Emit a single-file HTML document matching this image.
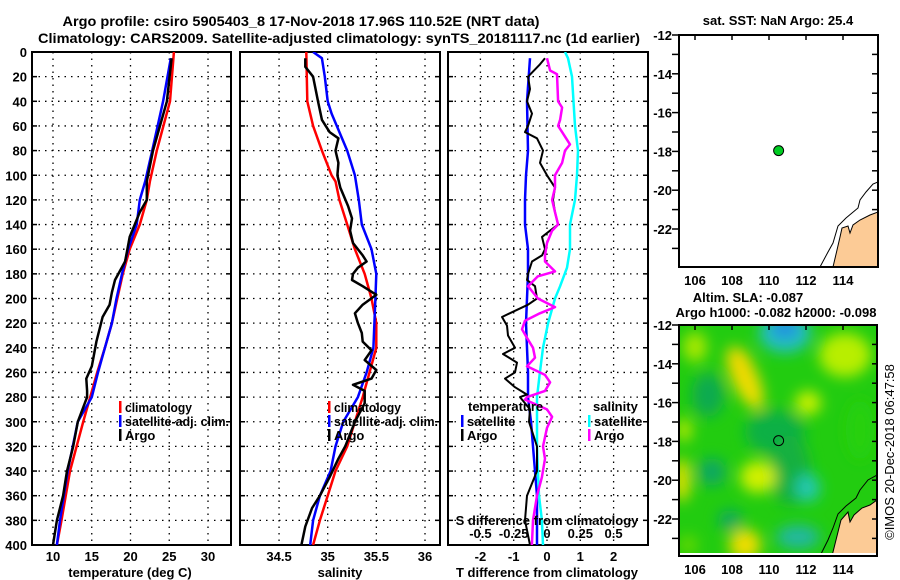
<!DOCTYPE html>
<html><head><meta charset="utf-8">
<style>
html,body{margin:0;padding:0;background:#fff;}
svg{display:block;font-family:"Liberation Sans",sans-serif;font-weight:bold;}
text{font-size:13px;fill:#000;}
</style></head>
<body>
<svg id="chart" width="900" height="580" viewBox="0 0 900 580" xmlns="http://www.w3.org/2000/svg">
<defs>
<clipPath id="clipP1"><rect x="32" y="52" width="199" height="493"/></clipPath>
<clipPath id="clipP2"><rect x="240" y="52" width="200" height="493"/></clipPath>
<clipPath id="clipP3"><rect x="448" y="52" width="200" height="493"/></clipPath>
<clipPath id="clipM1"><rect x="679" y="35" width="199" height="232"/></clipPath>
<clipPath id="clipM2"><rect x="679" y="325" width="198" height="231"/></clipPath>
<filter id="blur" x="-20%" y="-20%" width="140%" height="140%"><feGaussianBlur stdDeviation="7"/></filter>
</defs>
<text x="301" y="26" text-anchor="middle" textLength="477" lengthAdjust="spacingAndGlyphs" style="font-size:14px">Argo profile: csiro 5905403_8 17-Nov-2018 17.96S 110.52E (NRT data)</text>
<text x="339" y="43" text-anchor="middle" textLength="602" lengthAdjust="spacingAndGlyphs" style="font-size:14px">Climatology: CARS2009. Satellite-adjusted climatology: synTS_20181117.nc (1d earlier)</text>
<g id="layer"></g>
</svg>
<script>
// ---- data ----
const depthTicks=[0,20,40,60,80,100,120,140,160,180,200,220,240,260,280,300,320,340,360,380,400];
const tempTicks=[10,15,20,25,30];
const salTicks=[34.5,35,35.5,36];
const tdiffTicks=[-2,-1,0,1,2];
const sdiffTicks=[-0.5,-0.25,0,0.25,0.5];
const sdiffTickLabels=["-0.5","-0.25","0","0.25","0.5"];

const tClimDepth=[0,40,80,105,120,140,160,180,200,220,240,260,280,300,340,380,400];
const tClimVal=[25.6,25.1,23.4,22.5,22.1,21.2,19.9,19.0,18.3,17.6,16.7,15.7,14.8,13.9,12.2,11.1,10.5];
const tSatDepth=[5,40,80,105,120,140,160,180,200,220,240,260,280,300,340,380,400];
const tSatVal=[25.2,24.2,22.8,21.9,21.2,20.8,19.7,18.9,18.2,17.6,16.7,15.8,15.0,13.2,11.9,10.9,10.5];
const tArgoDepth=[5,40,80,105,120,130,150,170,185,195,205,215,225,235,245,255,265,275,280,300,320,340,360,380,400];
const tArgoVal=[25.3,24.7,22.9,22.1,22.1,21.2,19.9,19.3,18.0,17.6,17.3,16.4,16.0,15.6,15.3,15.0,14.3,14.4,14.4,13.2,12.6,11.8,11.3,10.5,10.0];

const sClimDepth=[0,40,60,80,100,105,120,140,160,180,200,220,240,260,280,300,320,340,360,380,400];
const sClimVal=[34.78,34.79,34.85,34.94,35.04,35.08,35.12,35.2,35.28,35.38,35.45,35.5,35.5,35.43,35.36,35.28,35.2,35.08,35.0,34.92,34.85];
const sSatDepth=[0,5,20,40,50,80,100,120,140,160,180,200,220,240,260,280,300,320,340,360,380,400];
const sSatVal=[34.85,34.94,34.97,35.0,35.04,35.2,35.28,35.32,35.35,35.45,35.5,35.49,35.48,35.47,35.4,35.31,35.16,35.08,35.03,34.92,34.85,34.82];
const sArgoDepth=[5,12,20,40,55,65,70,80,90,100,110,125,135,145,155,165,170,175,180,185,190,197,205,212,220,228,235,242,250,258,265,270,275,285,300,320,330,345,360,370,385,400];
const sArgoVal=[34.77,34.77,34.85,34.9,34.94,35.02,35.11,35.08,35.11,35.1,35.13,35.21,35.25,35.23,35.26,35.36,35.4,35.31,35.26,35.25,35.36,35.5,35.36,35.28,35.31,35.35,35.36,35.45,35.38,35.5,35.45,35.26,35.38,35.38,35.28,35.18,35.11,35.02,34.92,34.84,34.77,34.73];

const dtSatDepth=[5,40,80,100,120,140,160,180,200,220,240,260,280,300,320,340,360,400];
const dtSatVal=[-0.51,-0.6,-0.57,-0.63,-0.66,-0.66,-0.57,-0.57,-0.6,-0.63,-0.6,-0.57,-0.57,-0.48,-0.42,-0.36,-0.3,-0.3];
const dtArgoDepth=[5,10,20,30,40,50,60,65,70,80,90,100,110,120,130,140,145,150,160,165,170,180,185,190,200,205,210,215,222,230,240,245,252,260,265,272,278,280,290,300,320,340,360,380,400];
const dtArgoVal=[-0.06,-0.21,-0.57,-0.51,-0.6,-0.45,-0.57,-0.66,-0.3,-0.12,-0.21,0,0.24,0.18,0.24,0.33,0.09,-0.15,-0.06,-0.15,-0.45,-0.57,-0.6,-0.36,-0.3,-0.57,-0.96,-1.35,-1.2,-1.17,-0.96,-1.32,-0.9,-0.96,-1.26,-0.96,-0.6,-0.81,-0.51,-0.54,-0.3,-0.3,-0.6,-0.66,-0.51];
const dsSatDepth=[0,5,20,60,80,100,120,140,160,175,190,200,220,240,260,280,300,320,340,360,380,400];
const dsSatVal=[0.135,0.158,0.188,0.21,0.233,0.225,0.21,0.173,0.173,0.15,0.098,0.06,0.008,-0.03,-0.053,-0.075,-0.075,-0.075,-0.068,-0.06,-0.038,-0.03];
const dsArgoDepth=[5,15,18,40,45,55,60,65,75,80,90,100,110,120,130,140,145,155,165,170,178,182,190,200,207,212,218,225,232,240,248,255,262,268,275,280,282,290,296,305,320,330,345,360,380,400];
const dsArgoVal=[0,0.023,0.075,0.083,0.113,0.098,0.083,0.113,0.173,0.135,0.113,0.06,0.06,0.038,0.06,0.083,0.038,0,-0.015,-0.015,0.06,-0.068,-0.143,-0.068,0.06,-0.053,-0.165,-0.188,-0.15,-0.105,-0.09,-0.15,-0.015,0.023,-0.015,-0.15,-0.165,0,0.038,0,-0.03,-0.015,-0.038,-0.075,-0.105,-0.113];

const latTicks=[-12,-14,-16,-18,-20,-22];
const lonTicks=[106,108,110,112,114];
const argoLon=110.52, argoLat=-17.96;

// ---- helpers ----
const NS="http://www.w3.org/2000/svg";
const L=document.getElementById('layer');
function mk(tag,attrs,parent){const e=document.createElementNS(NS,tag);for(const k in attrs)e.setAttribute(k,attrs[k]);(parent||L).appendChild(e);return e;}
function txt(x,y,s,anchor,parent){const e=mk('text',{x:x,y:y,'text-anchor':anchor||'start'},parent);e.textContent=s;return e;}
const yD=d=>52+d*1.2325;
const xT=v=>53+(v-10)*7.75;
const xS=v=>327.7+(v-35)*97.3;
const xDT=v=>547+v*33.3;
const xDS=v=>547+v*133.2;
const P1={x0:32,x1:231},P2={x0:240,x1:440},P3={x0:448,x1:648};

function panelFrame(P,xticks,xf,name){
  const g=mk('g',{});
  
  
  depthTicks.slice(1,-1).forEach(d=>{
    const y=yD(d);
    const ln=mk('line',{x1:P.x0,x2:P.x1,y1:y,y2:y,stroke:'#000','stroke-width':1.3,'stroke-dasharray':'1.5,5'},g);
    
    
    mk('line',{x1:P.x0,x2:P.x0+5,y1:y,y2:y,stroke:'#000','stroke-width':1.5},g);
    mk('line',{x1:P.x1-5,x2:P.x1,y1:y,y2:y,stroke:'#000','stroke-width':1.5},g);
  });
  xticks.forEach(v=>{
    const x=xf(v);
    const ln=mk('line',{x1:x,x2:x,y1:52,y2:545,stroke:'#000','stroke-width':1.3,'stroke-dasharray':'1.5,5'},g);
    
    
  });
  const r=mk('rect',{x:P.x0,y:52,width:P.x1-P.x0,height:493,fill:'none',stroke:'#000','stroke-width':2},g);
  
  
  return g;
}
function line(depths,vals,xf,color,clip,name,w){
  const pts=depths.map((d,i)=>xf(vals[i]).toFixed(1)+','+yD(d).toFixed(1)).join(' ');
  const p=mk('polyline',{points:pts,fill:'none',stroke:color,'stroke-width':w||2.5,'stroke-linejoin':'round','clip-path':'url(#'+clip+')'});
  
  
}
function legendEntry(x,y,color,label,name,len){
  const g=mk('g',{});
  
  
  mk('rect',{x:x,y:y-6,width:2.5,height:12,fill:color},g);
  const t=txt(x+6,y+5,label,'start',g);
  if(len){t.setAttribute('textLength',len);t.setAttribute('lengthAdjust','spacingAndGlyphs');}
}

// ---- panel 1 ----
panelFrame(P1,tempTicks,xT,'temperature-panel');
depthTicks.forEach(d=>{const t=txt(27,yD(d)+5,String(d),'end');});
tempTicks.forEach(v=>{const t=txt(xT(v),561,String(v),'middle');});
{const t=txt(130,577,'temperature (deg C)','middle');}
line(tClimDepth,tClimVal,xT,'#ff0000','clipP1','temp-climatology-line');
line(tSatDepth,tSatVal,xT,'#0000ff','clipP1','temp-satellite-line');
line(tArgoDepth,tArgoVal,xT,'#000000','clipP1','temp-argo-line');
legendEntry(119,407,'#ff0000','climatology','legend-climatology-1',67);
legendEntry(119,421,'#0000ff','satellite-adj. clim.','legend-satellite-1',104);
legendEntry(119,435,'#000000','Argo','legend-argo-1');

// ---- panel 2 ----
panelFrame(P2,salTicks,xS,'salinity-panel');
salTicks.forEach(v=>{const t=txt(xS(v),561,String(v),'middle');});
{const t=txt(340,577,'salinity','middle');}
line(sClimDepth,sClimVal,xS,'#ff0000','clipP2','sal-climatology-line');
line(sSatDepth,sSatVal,xS,'#0000ff','clipP2','sal-satellite-line');
line(sArgoDepth,sArgoVal,xS,'#000000','clipP2','sal-argo-line');
legendEntry(328,407,'#ff0000','climatology','legend-climatology-2',67);
legendEntry(328,421,'#0000ff','satellite-adj. clim.','legend-satellite-2',104);
legendEntry(328,435,'#000000','Argo','legend-argo-2');

// ---- panel 3 ----
panelFrame(P3,tdiffTicks,xDT,'difference-panel');
tdiffTicks.forEach(v=>{const t=txt(xDT(v),561,String(v),'middle');});
{const t=txt(547,577,'T difference from climatology','middle');}
line(dtSatDepth,dtSatVal,xDT,'#0000ff','clipP3','tdiff-satellite-line');
line(dsSatDepth,dsSatVal,xDS,'#00ffff','clipP3','sdiff-satellite-line');
line(dtArgoDepth,dtArgoVal,xDT,'#000000','clipP3','tdiff-argo-line',2);
line(dsArgoDepth,dsArgoVal,xDS,'#ff00ff','clipP3','sdiff-argo-line');
{const t=txt(547,525,'S difference from climatology','middle');}
sdiffTicks.forEach((v,i)=>{const t=txt(xDS(v),538,sdiffTickLabels[i],'middle');});
{const t=txt(468,411,'temperature','start');}
{const t=txt(593,411,'salinity','start');}
legendEntry(461,421,'#0000ff','satellite','legend-t-satellite');
legendEntry(461,435,'#000000','Argo','legend-t-argo');
legendEntry(588,421,'#00ffff','satellite','legend-s-satellite');
legendEntry(588,435,'#ff00ff','Argo','legend-s-argo');

// ---- maps ----
const lonX=lon=>695+(lon-106)*18.5;
function mapAxes(top,bottom,lat0y,name){
  const g=mk('g',{});
  
  
  const latY=lat=>lat0y+(-12-lat)*19.4;
  for(let lat=-12;lat>=-24;lat--){const y=latY(lat);if(y<top-0.5||y>bottom)continue;
    mk('line',{x1:672,x2:679,y1:y,y2:y,stroke:'#000','stroke-width':1.5},g);
    mk('line',{x1:872,x2:878,y1:y,y2:y,stroke:'#000','stroke-width':1.5},g);}
  latTicks.forEach(l=>txt(672,latY(l)+5,String(l),'end',g));
  lonTicks.forEach(l=>{const x=lonX(l);
    mk('line',{x1:x,x2:x,y1:top,y2:top+5,stroke:'#000','stroke-width':1.5},g);
    txt(x,bottom+18,String(l),'middle',g);});
  return latY;
}
// top map
const latY1=mapAxes(35,267,35,'sst-map');
{const t=txt(778,25,'sat. SST: NaN Argo: 25.4','middle');}
{const g=mk('g',{'clip-path':'url(#clipM1)'});
 
 mk('path',{d:'M833,267 L837,250 L840,237 L842,228 L848,226 L850,233 L853,225 L860,220 L870,215 L878,212 L878,267 Z',fill:'#fccb96',stroke:'#000','stroke-width':1},g);
 mk('path',{d:'M820,267 L828,252 L833,243 L838,226 L846,218 L858,208 L860,200 L866,192 L873,184 L878,182',fill:'none',stroke:'#000','stroke-width':1},g);
}
mk('rect',{x:679,y:35,width:199,height:232,fill:'none',stroke:'#000','stroke-width':2});
{const c=mk('circle',{cx:lonX(argoLon),cy:latY1(argoLat),r:5,fill:'#00cc22',stroke:'#000','stroke-width':1});}

// bottom map
{const t=txt(748,302,'Altim. SLA: -0.087','middle');}
{const t=txt(776,317,'Argo h1000: -0.082 h2000: -0.098','middle');}
{const g=mk('g',{'clip-path':'url(#clipM2)'});
 
 mk('rect',{x:679,y:325,width:198,height:231,fill:'#22cc10'},g);
 const b=mk('g',{filter:'url(#blur)'},g);
 const blobs=[
  [708,395,16,22,'#10aa50'],[775,432,30,22,'#10b044'],[790,470,20,35,'#14b040'],
  [745,378,13,34,'#eedd00',-25],[740,365,12,18,'#f0d800',-25],[785,333,26,20,'#20c0c0'],[785,328,14,10,'#2090e0'],
  [845,355,26,22,'#b8ee00'],[808,403,13,12,'#c8f000'],[695,347,12,15,'#a8e800'],
  [682,480,8,22,'#e8e000'],[684,430,8,12,'#b0e800'],[758,477,18,16,'#d0f000'],[808,488,12,14,'#20c8b0'],
  [712,472,14,14,'#10a860'],[730,520,12,10,'#10a860'],[745,545,16,16,'#eedd00'],[798,537,22,12,'#20b8a0'],
  [860,430,14,30,'#28d010'],[688,545,10,10,'#60d800']];
 blobs.forEach(o=>{mk('ellipse',{cx:o[0],cy:o[1],rx:o[2],ry:o[3],fill:o[4],transform:o[5]?'rotate('+o[5]+' '+o[0]+' '+o[1]+')':''},b);});
 mk('path',{d:'M832,556 L836,540 L841,520 L848,512 L850,522 L854,515 L862,508 L870,505 L877,500 L877,556 Z',fill:'#fccb96',stroke:'#000','stroke-width':1},g);
 mk('path',{d:'M820,556 L828,540 L833,528 L838,514 L846,506 L856,498 L860,490 L868,480 L877,475',fill:'none',stroke:'#000','stroke-width':1},g);
 mk('rect',{x:679,y:553,width:198,height:3,fill:'#fff'},g);
}
const latY2=mapAxes(325,556,325,'sla-map');
mk('rect',{x:679,y:325,width:198,height:231,fill:'none',stroke:'#000','stroke-width':2});
{const c=mk('circle',{cx:lonX(argoLon),cy:latY2(argoLat),r:5,fill:'none',stroke:'#000','stroke-width':1});}
{const t=txt(0,0,'©IMOS 20-Dec-2018 06:47:58','middle');t.setAttribute('transform','translate(894,452) rotate(-90)');t.setAttribute('style','font-weight:normal;font-size:13px');}
</script>
</body></html>
